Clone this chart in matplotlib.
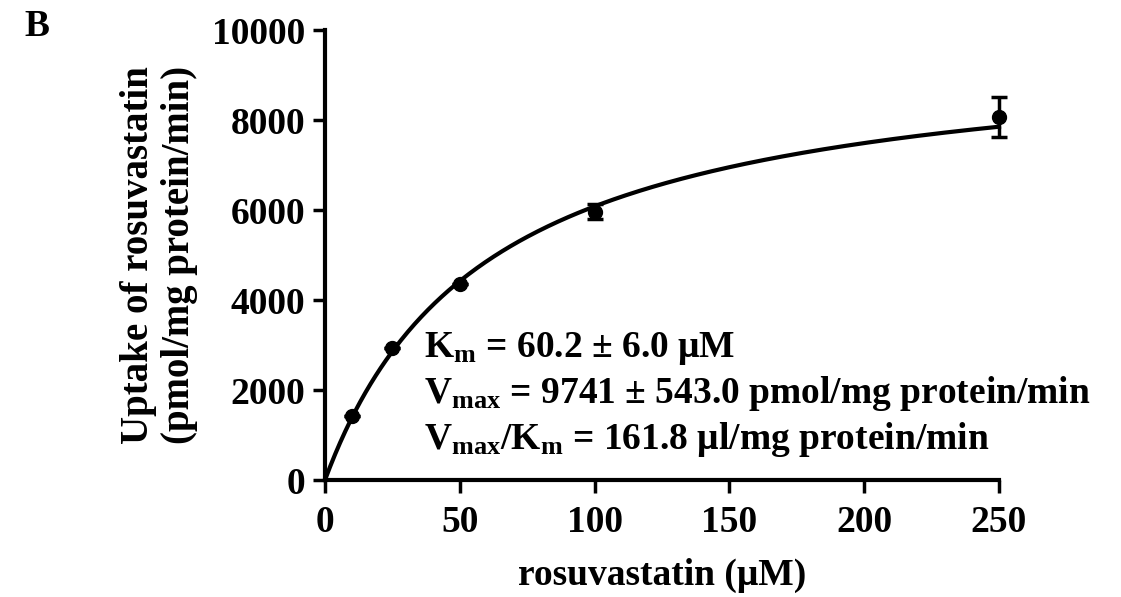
import numpy as np
import matplotlib
matplotlib.use('Agg')
import matplotlib.pyplot as plt

# Data
conc = [10, 25, 50, 100, 250]            # rosuvastatin (uM)
uptake = [1420, 2930, 4355, 5965, 8070]  # pmol/mg protein/min
sem = [0, 0, 0, 170, 445]

km = 60.2
vmax = 9741

x_ticks = [0, 50, 100, 150, 200, 250]
y_ticks = [0, 2000, 4000, 6000, 8000, 10000]

plt.rcParams['font.family'] = ['Liberation Serif', 'DejaVu Serif']
plt.rcParams['font.weight'] = 'bold'
plt.rcParams['mathtext.default'] = 'regular'

fig = plt.figure(figsize=(11.21, 5.97), dpi=100)
ax = fig.add_axes([325 / 1121, 1 - 480 / 597, 674 / 1121, 450 / 597])

# Michaelis-Menten fit curve
xs = np.linspace(0, 250, 400)
ax.plot(xs, vmax * xs / (km + xs), color='black', lw=3, clip_on=False, zorder=2)

ax.errorbar(conc, uptake, yerr=sem, fmt='o', color='black', ms=10,
            elinewidth=2.5, capsize=6, capthick=2.5, clip_on=False, zorder=3)

ax.set_xlim(0, 250)
ax.set_ylim(0, 10000)
ax.set_xticks(x_ticks)
ax.set_yticks(y_ticks)

for s in ['top', 'right']:
    ax.spines[s].set_visible(False)
for s in ['left', 'bottom']:
    ax.spines[s].set_linewidth(3)

ax.tick_params(axis='both', direction='out', length=9, width=2.5,
               labelsize=27, pad=5)
ax.tick_params(axis='x', pad=9)
for lab in ax.get_xticklabels() + ax.get_yticklabels():
    lab.set_fontweight('bold')

ax.set_xlabel('rosuvastatin (\u03bcM)', fontsize=27, fontweight='bold', labelpad=13)
ax.set_ylabel('Uptake of rosuvastatin\n(pmol/mg protein/min)', fontsize=28,
              fontweight='bold', labelpad=10, linespacing=1.15)

# Kinetic parameters
txt = ('K$_m$ = 60.2 \u00b1 6.0 \u03bcM\n'
       'V$_{max}$ = 9741 \u00b1 543.0 pmol/mg protein/min\n'
       'V$_{max}$/K$_m$ = 161.8 \u03bcl/mg protein/min')
ax.text(0.147, 0.19, txt, transform=ax.transAxes, fontsize=27,
        fontweight='bold', va='center', ha='left', linespacing=1.25)

fig.text(0.022, 0.955, 'B', fontsize=27, fontweight='bold', va='center')

fig.savefig('out.png', dpi=100)
